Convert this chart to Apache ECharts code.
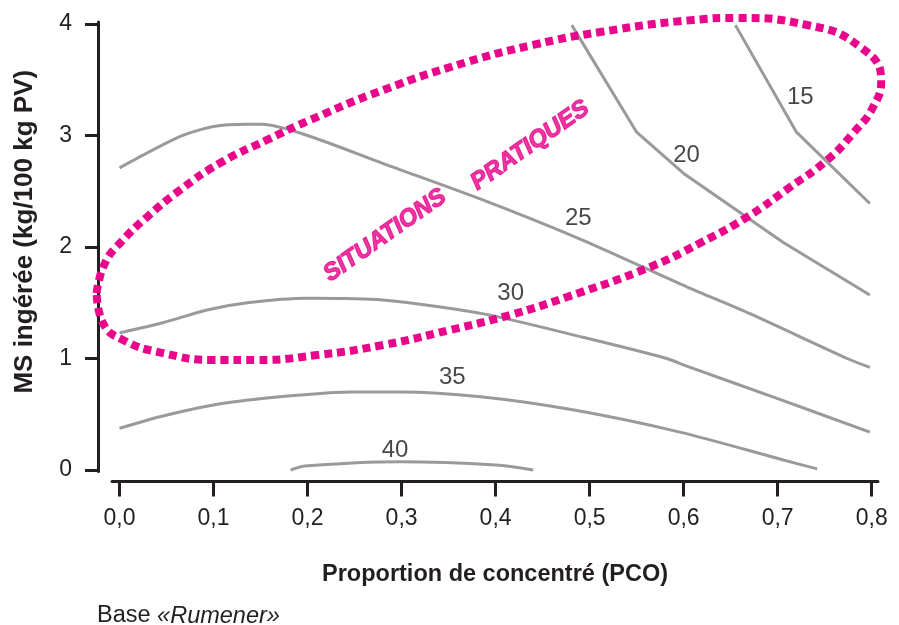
<!DOCTYPE html>
<html><head><meta charset="utf-8">
<script src="https://cdn.jsdelivr.net/npm/echarts@6/dist/echarts.min.js"></script>
<style>html,body{margin:0;padding:0;background:#fff}#c{width:899px;height:625px}</style>
</head><body><div id="c"></div>
<script>
// Tick labels
const xTicks = [0, 0.1, 0.2, 0.3, 0.4, 0.5, 0.6, 0.7, 0.8];
const yTicks = [0, 1, 2, 3, 4];

// Iso-curves
const curve15X = [0.655, 0.720, 0.798];
const curve15Y = [3.99, 3.03, 2.39];
const curve20X = [0.481, 0.550, 0.600, 0.706, 0.798];
const curve20Y = [3.99, 3.03, 2.66, 2.04, 1.57];
const curve25X = [0.000, 0.064, 0.100, 0.136, 0.152, 0.200, 0.280, 0.387, 0.493, 0.604, 0.671, 0.774, 0.798];
const curve25Y = [2.71, 2.99, 3.08, 3.10, 3.10, 3.00, 2.75, 2.42, 2.06, 1.64, 1.40, 1.00, 0.92];
const curve30X = [0.000, 0.046, 0.093, 0.136, 0.200, 0.280, 0.387, 0.493, 0.582, 0.604, 0.700, 0.798];
const curve30Y = [1.23, 1.32, 1.435, 1.50, 1.54, 1.525, 1.40, 1.19, 1.00, 0.93, 0.64, 0.34];
const curve35X = [0.000, 0.043, 0.100, 0.157, 0.192, 0.245, 0.300, 0.384, 0.482, 0.596, 0.706, 0.742];
const curve35Y = [0.374, 0.478, 0.583, 0.646, 0.673, 0.700, 0.700, 0.657, 0.540, 0.340, 0.090, 0.010];
const curve40X = [0.182, 0.197, 0.298, 0.400, 0.440];
const curve40Y = [0.000, 0.036, 0.074, 0.045, 0.000];

// Curve labels
const curveLabels = ['15', '20', '25', '30', '35', '40'];
const curveLabelX = [0.724, 0.603, 0.488, 0.416, 0.354, 0.293];
const curveLabelY = [3.345, 2.825, 2.26, 1.587, 0.83, 0.18];

// "Situations pratiques" outline
const zoneX = [-0.0243, -0.0154, 0.0037, 0.0293, 0.0644, 0.1069, 0.1569, 0.2027, 0.2803, 0.3697, 0.4399, 0.5112, 0.6101, 0.6569, 0.7314, 0.7878, 0.8101, 0.8016, 0.7803, 0.7527, 0.7133, 0.6676, 0.6176, 0.5644, 0.4761, 0.4154, 0.3516, 0.2803, 0.2101, 0.1463, 0.0995, 0.0463, 0.0037, -0.0176, -0.0243];
const zoneY = [1.587, 1.857, 2.063, 2.269, 2.511, 2.753, 2.960, 3.139, 3.408, 3.659, 3.812, 3.928, 4.036, 4.054, 3.991, 3.794, 3.498, 3.256, 3.022, 2.780, 2.538, 2.269, 2.036, 1.821, 1.552, 1.390, 1.256, 1.121, 1.031, 0.987, 0.987, 1.049, 1.166, 1.318, 1.587];

const zoneTexts = ['SITUATIONS', 'PRATIQUES'];
const zoneTextX = [0.2824, 0.4367];
const zoneTextY = [2.103, 2.91];

const FONT = "'Liberation Sans', Arial, Helvetica, sans-serif";
const TXT = '#231f20';
const GRAY = '#9a9a9c';
const PINK = '#e8078b';

const zip = (xs, ys) => xs.map((x, i) => [x, ys[i]]);
const curve = (xs, ys, smooth) => ({
  type: 'line', data: zip(xs, ys), symbol: 'none', smooth: smooth,
  lineStyle: { color: GRAY, width: 3 }, z: 2, silent: true
});

// Same pixel scale on both grids: 940.25 px per x unit, 111.5 px per y unit
const chart = echarts.init(document.getElementById('c'), null, { renderer: 'canvas' });
chart.setOption({
  animation: false,
  backgroundColor: '#fff',
  grid: [
    { left: 112, right: 21, top: 22, bottom: 153.5 },
    { left: 60, right: 0, top: 2, bottom: 153.5 }
  ],
  xAxis: [{
    gridIndex: 0, type: 'value', min: -0.008, max: 0.8067, offset: 10,
    name: 'Proportion de concentré (PCO)', nameLocation: 'middle', nameGap: 81,
    nameTextStyle: { fontFamily: FONT, fontSize: 23.5, fontWeight: 'bold', color: TXT },
    axisLine: { show: true, onZero: false, lineStyle: { color: TXT, width: 3 } },
    axisTick: { show: true, length: 15, lineStyle: { color: TXT, width: 3 }, customValues: xTicks },
    axisLabel: { customValues: xTicks, margin: 26, fontFamily: FONT, fontSize: 23, color: TXT,
      formatter: v => v.toFixed(1).replace('.', ',') },
    splitLine: { show: false }
  }, {
    gridIndex: 1, type: 'value', min: -0.008 - 52 / 940.25, max: 0.8067 + 21 / 940.25, show: false
  }],
  yAxis: [{
    gridIndex: 0, type: 'value', min: -0.0135, max: 4.018, offset: 14,
    name: 'MS ingérée (kg/100 kg PV)', nameLocation: 'middle', nameRotate: 90, nameGap: 60,
    nameTextStyle: { fontFamily: FONT, fontSize: 26, fontWeight: 'bold', color: TXT, padding: [0, 0, 0, 30] },
    axisLine: { show: true, onZero: false, lineStyle: { color: TXT, width: 3 } },
    axisTick: { show: true, length: 13, lineStyle: { color: TXT, width: 3 }, customValues: yTicks },
    axisLabel: { customValues: yTicks, margin: 26, fontFamily: FONT, fontSize: 23, color: TXT },
    splitLine: { show: false }
  }, {
    gridIndex: 1, type: 'value', min: -0.0135, max: 4.018 + 20 / 111.5, show: false
  }],
  series: [
    curve(curve15X, curve15Y, false),
    curve(curve20X, curve20Y, false),
    curve(curve25X, curve25Y, 0.25),
    curve(curve30X, curve30Y, 0.25),
    curve(curve35X, curve35Y, 0.3),
    curve(curve40X, curve40Y, 0.3),
    {
      type: 'scatter', data: curveLabels.map((t, i) => [curveLabelX[i], curveLabelY[i], t]),
      symbolSize: 1, itemStyle: { color: 'transparent' }, z: 3, silent: true,
      label: { show: true, position: 'inside', formatter: p => p.data[2],
        fontFamily: FONT, fontSize: 24, color: '#1a1718' }
    },
    {
      type: 'line', xAxisIndex: 1, yAxisIndex: 1,
      data: zip(zoneX, zoneY), symbol: 'none', smooth: true, clip: false,
      lineStyle: { color: PINK, width: 8, type: [8, 5], cap: 'butt' }, z: 5, silent: true
    },
    {
      type: 'scatter', xAxisIndex: 1, yAxisIndex: 1,
      data: zoneTexts.map((t, i) => [zoneTextX[i], zoneTextY[i], t]),
      symbolSize: 1, itemStyle: { color: 'transparent' }, z: 6, silent: true,
      label: { show: true, position: 'inside', rotate: 35, formatter: p => p.data[2],
        fontFamily: FONT, fontSize: 24, fontWeight: 'bold', fontStyle: 'italic', color: PINK,
        textBorderColor: PINK, textBorderWidth: 1.2 }
    }
  ],
  graphic: [{
    type: 'text', left: 97, top: 604,
    style: {
      text: '{a|Base }{b|«Rumener»}',
      rich: {
        a: { fontFamily: FONT, fontSize: 23.5, fill: TXT },
        b: { fontFamily: FONT, fontSize: 23.5, fontStyle: 'italic', fill: TXT }
      }
    }
  }]
});
</script>
</body></html>
